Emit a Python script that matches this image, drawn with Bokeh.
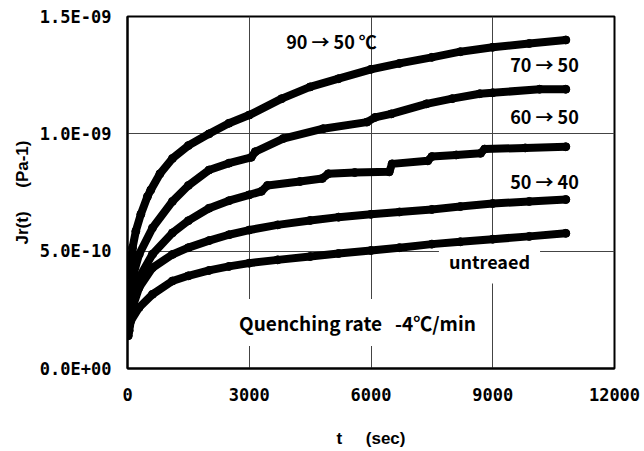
import math
from bokeh.plotting import figure
from bokeh.models import Label, FixedTicker, ColumnDataSource
from bokeh.embed import file_html
from bokeh.resources import INLINE

# ---- data ----
t_90_50 = [40, 82, 123, 205, 328, 492, 574, 800, 1107, 1500, 2010, 2500, 3000, 3800, 4500, 5200, 6000, 6700, 7500, 8200, 9000, 9900, 10800]
j_90_50 = [0.40, 0.445, 0.514, 0.585, 0.657, 0.733, 0.761, 0.83, 0.895, 0.95, 1.00, 1.045, 1.08, 1.15, 1.20, 1.235, 1.275, 1.30, 1.326, 1.35, 1.369, 1.385, 1.40]

t_70_50 = [40, 123, 287, 615, 1107, 1500, 2010, 2500, 3050, 3150, 3836, 4820, 5900, 6100, 6500, 7370, 8000, 8680, 9000, 10155, 10800]
j_70_50 = [0.30, 0.387, 0.487, 0.599, 0.712, 0.78, 0.846, 0.875, 0.90, 0.924, 0.98, 1.022, 1.05, 1.07, 1.085, 1.128, 1.15, 1.171, 1.175, 1.19, 1.19]

t_60_50 = [40, 123, 287, 615, 1107, 1500, 2010, 2500, 3000, 3300, 3450, 4250, 4800, 4950, 5600, 6450, 6520, 7400, 7500, 8100, 8700, 8800, 9800, 10800]
j_60_50 = [0.22, 0.302, 0.387, 0.487, 0.578, 0.63, 0.683, 0.715, 0.74, 0.755, 0.78, 0.797, 0.81, 0.83, 0.835, 0.838, 0.872, 0.885, 0.903, 0.91, 0.917, 0.935, 0.94, 0.945]

t_50_40 = [40, 123, 287, 615, 1107, 1500, 2010, 2500, 3000, 3700, 4500, 5200, 6000, 6700, 7500, 8200, 9000, 9900, 10800]
j_50_40 = [0.18, 0.26, 0.345, 0.429, 0.486, 0.515, 0.545, 0.57, 0.59, 0.612, 0.631, 0.645, 0.657, 0.667, 0.678, 0.69, 0.703, 0.712, 0.72]

t_untreated = [20, 41, 82, 287, 615, 1107, 1500, 2010, 2500, 3000, 3700, 4500, 5200, 6000, 6700, 7500, 8200, 9000, 9900, 10800]
j_untreated = [0.14, 0.161, 0.203, 0.26, 0.316, 0.373, 0.395, 0.418, 0.435, 0.449, 0.463, 0.477, 0.49, 0.503, 0.515, 0.53, 0.54, 0.551, 0.563, 0.576]

series = [(t_90_50, j_90_50), (t_70_50, j_70_50), (t_60_50, j_60_50), (t_50_40, j_50_40), (t_untreated, j_untreated)]

y_ticks = [0.0, 5e-10, 1e-9, 1.5e-9]
y_tick_labels = ["0.0E+00", "5.0E-10", "1.0E-09", "1.5E-09"]
x_ticks = [0, 3000, 6000, 9000, 12000]

FONT = "Noto Sans CJK JP"
TICKFONT = "DejaVu Sans Mono"
LABELFONT = "Liberation Sans"
NB = "\u00a0"

p = figure(width=640, height=451, output_backend="svg", toolbar_location=None,
           x_range=(0, 12000), y_range=(0, 1.5e-9),
           min_border_left=127, min_border_right=26, min_border_top=16, min_border_bottom=83)
p.outline_line_color = "black"
p.outline_line_width = 2
p.background_fill_color = "white"
p.border_fill_color = "white"

for ax in (p.xaxis[0], p.yaxis[0]):
    ax.axis_line_color = "black"
    ax.axis_line_width = 2
    ax.major_tick_in = 0
    ax.major_tick_out = 0
    ax.minor_tick_line_color = None
    ax.major_label_text_font = TICKFONT
    ax.major_label_text_font_size = "17px"
    ax.major_label_text_font_style = "bold"
    ax.major_label_text_color = "black"
    ax.axis_label_text_font = LABELFONT
    ax.axis_label_text_font_size = "17px"
    ax.axis_label_text_font_style = "bold"
    ax.axis_label_text_color = "black"

p.xaxis[0].ticker = FixedTicker(ticks=x_ticks)
p.yaxis[0].ticker = FixedTicker(ticks=y_ticks)
p.yaxis[0].major_label_overrides = {v: s for v, s in zip(y_ticks, y_tick_labels)}
p.xaxis[0].major_label_standoff = 19
p.yaxis[0].major_label_standoff = 16
p.xaxis[0].axis_label = "t" + NB * 5 + "(sec)"
p.yaxis[0].axis_label = "Jr(t)" + NB * 5 + "(Pa-1)"
p.xaxis[0].axis_label_standoff = 25
p.yaxis[0].axis_label_standoff = 5

p.xgrid.grid_line_color = "#444444"
p.ygrid.grid_line_color = "#444444"
p.xgrid.grid_line_width = 1
p.ygrid.grid_line_width = 1

for t, j in series:
    src = ColumnDataSource(dict(t=t, j=[v * 1e-9 for v in j]))
    p.line("t", "j", source=src, line_color="black", line_width=8, line_join="round", line_cap="round")
    p.scatter("t", "j", source=src, size=8, color="black")

# pixel helpers for label placement (frame: x 0..12000 over 487px, y 0..1.5e-9 over 352px)
def tx(px):
    return (px - 127) / 487 * 12000

def jy(py):
    return (368 - py) / 352 * 1.5e-9

def lab(text, px, py, size="18px", style="bold", bg=None):
    l = Label(x=tx(px), y=jy(py), text=text, text_font=FONT, text_font_size=size,
              text_font_style=style, text_color="black", text_align="center",
              text_baseline="middle")
    if bg:
        l.background_fill_color = bg
        l.padding = 10
        l.level = "underlay"
    p.add_layout(l)

lab("90 → 50 ℃", 331, 40)
lab("70 → 50", 544, 63)
lab("60 → 50", 544, 115)
lab("50 → 40", 544, 180)
lab("untreaed", 489, 260, bg="white")
lab("Quenching rate" + NB * 3 + "-4℃/min", 357, 322, size="19px", bg="white")

open("out.html", "w").write(file_html(p, INLINE))
